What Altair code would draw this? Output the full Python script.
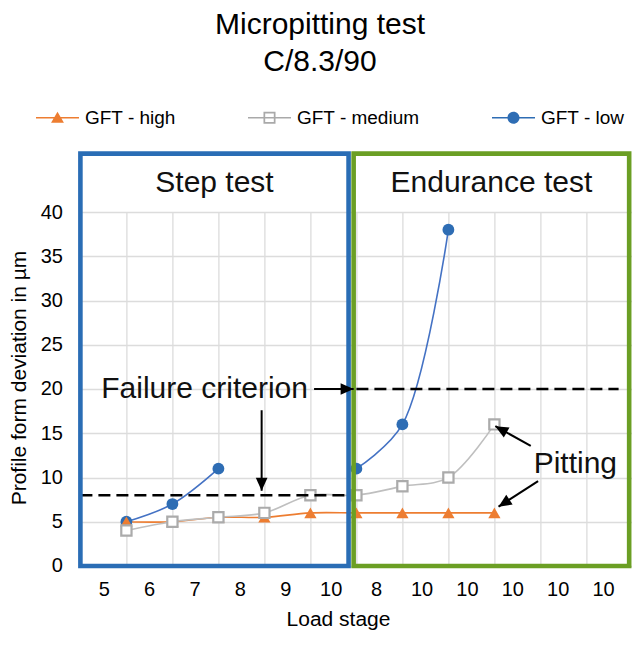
import json
import math
import altair as alt
import pandas as pd

# ---------------- data ----------------
stage_idx = [0, 1, 2, 3, 4, 5, 6, 7, 8]
series_names = ["GFT - high", "GFT - medium", "GFT - low"]
high = [5, 5, 5.5, 5.5, 6, 6, 6, 6, 6]
medium = [4, 5, 5.5, 6, 8, 8, 9, 10, 16]
low = [5, 7, 11, None, None, 11, 16, 38, None]

x_labels = ["5", "6", "7", "8", "9", "10", "8", "10", "10", "10", "10", "10"]
y_ticks = [0, 5, 10, 15, 20, 25, 30, 35, 40]
grid_idx = list(range(-1, 12))

phase_names = ["Step test", "Endurance test"]
phase_start = [-1, 4.94]
phase_end = [4.83, 10.93]
phase_top = 46.6
phase_label_y = 42.3

criterion_value = [8, 20]
criterion_start = [-1, 5.0]
criterion_end = [4.8, 10.7]

note_text = ["Failure criterion", "Pitting"]
note_x = [1.7, 9.76]
note_y = [19, 10.5]

arrow_from_x = [4.08, 2.94, 8.79, 8.95]
arrow_from_y = [20, 17.6, 13.56, 9.6]
arrow_to_x = [4.94, 2.94, 8.02, 8.09]
arrow_to_y = [20, 8.5, 15.8, 6.7]

# ---------------- layout / style ----------------
W, H = 552, 354
X_DOMAIN = [-1, 11]
Y_DOMAIN = [0, 40]
FONT = "Liberation Sans"
line_colors = ["#ED7D31", "#BFBFBF", "#4472C4"]
legend_colors = ["#ED7D31", "#A9A9A9", "#2E6DB4"]
box_colors = ["#2A6DB5", "#6B9F24"]

# ---------------- tables ----------------
rows = []
for name, vals in zip(series_names, [high, medium, low]):
    seg, gap = 0, True
    for i, v in zip(stage_idx, vals):
        if v is None:
            gap = True
            continue
        if gap:
            seg += 1
            gap = False
        rows.append({"series": name, "stage": i, "value": v, "seg": f"{name}-{seg}"})
df = pd.DataFrame(rows)

boxes = pd.DataFrame({"phase": phase_names, "x0": phase_start, "x1": phase_end})
boxes["y0"] = 0
boxes["y1"] = phase_top
boxes["mid"] = (boxes["x0"] + boxes["x1"]) / 2
boxes["ty"] = phase_label_y

crit = pd.DataFrame({"y": criterion_value, "x0": criterion_start, "x1": criterion_end})
notes = pd.DataFrame({"text": note_text, "x": note_x, "y": note_y})

arrows = pd.DataFrame({"fx": arrow_from_x, "fy": arrow_from_y,
                       "tx": arrow_to_x, "ty": arrow_to_y})
sx = W / (X_DOMAIN[1] - X_DOMAIN[0])
sy = H / (Y_DOMAIN[1] - Y_DOMAIN[0])
arrows["angle"] = [
    math.degrees(math.atan2((tx - fx) * sx, (ty - fy) * sy)) % 360
    for fx, fy, tx, ty in zip(arrows.fx, arrows.fy, arrows.tx, arrows.ty)
]

slots = pd.DataFrame({"slot": list(range(len(x_labels)))})

# ---------------- scales / axes ----------------
xscale = alt.Scale(domain=X_DOMAIN, nice=False, zero=False)
yscale = alt.Scale(domain=Y_DOMAIN, nice=False, zero=False)
xaxis = alt.Axis(values=grid_idx, grid=True, labels=False, ticks=False,
                 domain=False, title=None, orient="bottom",
                 gridColor="#DCDCDC", gridWidth=1.3)
yaxis = alt.Axis(values=y_ticks, grid=True, ticks=False, tickSize=0, domain=False,
                 labelFontSize=20, labelPadding=18, labelColor="black",
                 labelFont=FONT,
                 title="Profile form deviation in µm", titleFontSize=21,
                 titleFontWeight="normal", titleColor="black", titleFont=FONT,
                 titleX=-50.5, titleY=165.5,
                 gridColor="#DCDCDC", gridWidth=1.3)


def X(f):
    return alt.X(f, scale=xscale, axis=xaxis)


def Y(f):
    return alt.Y(f, scale=yscale, axis=yaxis)


base = alt.Chart(df)

lines = base.mark_line(interpolate="catmull-rom", strokeWidth=1.6).encode(
    x=X("stage:Q"), y=Y("value:Q"),
    color=alt.Color("series:N", scale=alt.Scale(domain=series_names, range=line_colors), legend=None),
    detail="seg:N",
)
circles = base.transform_filter(alt.datum.series == "GFT - low").mark_point(
    shape="circle", filled=True, size=140, color="#2E6DB4", opacity=1
).encode(x=X("stage:Q"), y=Y("value:Q"))
tris = base.transform_filter(alt.datum.series == "GFT - high").mark_point(
    shape="triangle-up", filled=True, size=150, color="#ED7D31", opacity=1
).encode(x=X("stage:Q"), y=Y("value:Q"))
squares = base.transform_filter(alt.datum.series == "GFT - medium").mark_point(
    shape="square", filled=True, fill="white", stroke="#ABABAB", strokeWidth=2.2,
    size=105, opacity=1
).encode(x=X("stage:Q"), y=Y("value:Q"))

crit_rules = alt.Chart(crit).mark_rule(strokeDash=[12, 6], strokeWidth=2.4, color="black").encode(
    x=X("x0:Q"), x2="x1:Q", y=Y("y:Q")
)

box_rects = alt.Chart(boxes).mark_rect(fillOpacity=0, strokeWidth=4.6).encode(
    x=X("x0:Q"), x2="x1:Q", y=Y("y0:Q"), y2="y1:Q",
    stroke=alt.Stroke("phase:N", scale=alt.Scale(domain=phase_names, range=box_colors), legend=None),
)
box_text = alt.Chart(boxes).mark_text(fontSize=30, font=FONT, baseline="alphabetic", color="#111").encode(
    x=X("mid:Q"), y=Y("ty:Q"), text="phase:N"
)

note_marks = alt.Chart(notes).mark_text(fontSize=30, font=FONT, baseline="alphabetic", color="#111").encode(
    x=X("x:Q"), y=Y("y:Q"), text="text:N"
)
arrow_shafts = alt.Chart(arrows).mark_rule(strokeWidth=2, color="black").encode(
    x=X("fx:Q"), x2="tx:Q", y=Y("fy:Q"), y2="ty:Q"
)
arrow_heads = alt.Chart(arrows).mark_point(
    shape="M0,0L-0.9,2L0.9,2Z", filled=True, size=169, color="black", opacity=1
).encode(x=X("tx:Q"), y=Y("ty:Q"), angle=alt.Angle("angle:Q", scale=None))

main = alt.layer(lines, circles, tris, squares, crit_rules, box_rects, box_text,
                 note_marks, arrow_shafts, arrow_heads)

# custom category axis for the load-stage labels
label_layer = alt.Chart(slots).mark_point(opacity=0).encode(
    x=alt.X("slot:O",
            scale=alt.Scale(type="point", padding=0.579, align=0.443),
            axis=alt.Axis(orient="bottom", labelExpr=f"{json.dumps(x_labels)}[datum.value]",
                          labelAngle=0, ticks=False, tickSize=0, domain=False, grid=False,
                          labelFontSize=20, labelPadding=14, labelColor="black", labelFont=FONT,
                          title="Load stage", titleFontSize=21, titleFontWeight="normal",
                          titleColor="black", titleFont=FONT,
                          titleX=257.6, titleY=60, titleBaseline="alphabetic")),
    y=alt.value(0),
)

# legend (line + marker symbols)
L = "M-1,-0.04L1,-0.04L1,0.04L-1,0.04Z"
legend_paths = [
    L + "M0,-0.28L0.3,0.23L-0.3,0.23Z",
    L + "M-0.28,-0.28L0.28,-0.28L0.28,0.28L-0.28,0.28Z"
      + "M-0.2,-0.2L-0.2,0.2L0.2,0.2L0.2,-0.2Z",
    L + "M-0.28,0A0.28,0.28 0 1,1 0.28,0A0.28,0.28 0 1,1 -0.28,0Z",
]
leg = alt.Legend(orient="none", legendX=-44.4, legendY=-116, direction="horizontal",
                 title=None, symbolSize=1849, symbolStrokeWidth=0, labelFontSize=19,
                 labelFont=FONT, labelColor="black", labelOffset=6, columnPadding=72,
                 columns=3)
legend_layer = base.transform_filter("false").mark_point(filled=True, opacity=1, size=1849).encode(
    color=alt.Color("series:N", scale=alt.Scale(domain=series_names, range=legend_colors), legend=leg),
    shape=alt.Shape("series:N", scale=alt.Scale(domain=series_names, range=legend_paths), legend=leg),
)

chart = alt.layer(main, label_layer, legend_layer).resolve_scale(
    x="independent", color="independent", shape="independent"
).properties(
    width=W, height=H,
    padding={"left": 72.4, "top": 204, "right": 0, "bottom": 64},
    autosize=alt.AutoSizeParams(type="none"),
    title=alt.TitleParams(["Micropitting test", "C/8.3/90"], fontSize=30, fontWeight="normal",
                          font=FONT, color="black", lineHeight=37, anchor="middle", dx=-36.4, dy=-15),
).configure_view(stroke=None).configure(font=FONT)

chart.save("out.html", embed_options={"renderer": "svg", "actions": False})
